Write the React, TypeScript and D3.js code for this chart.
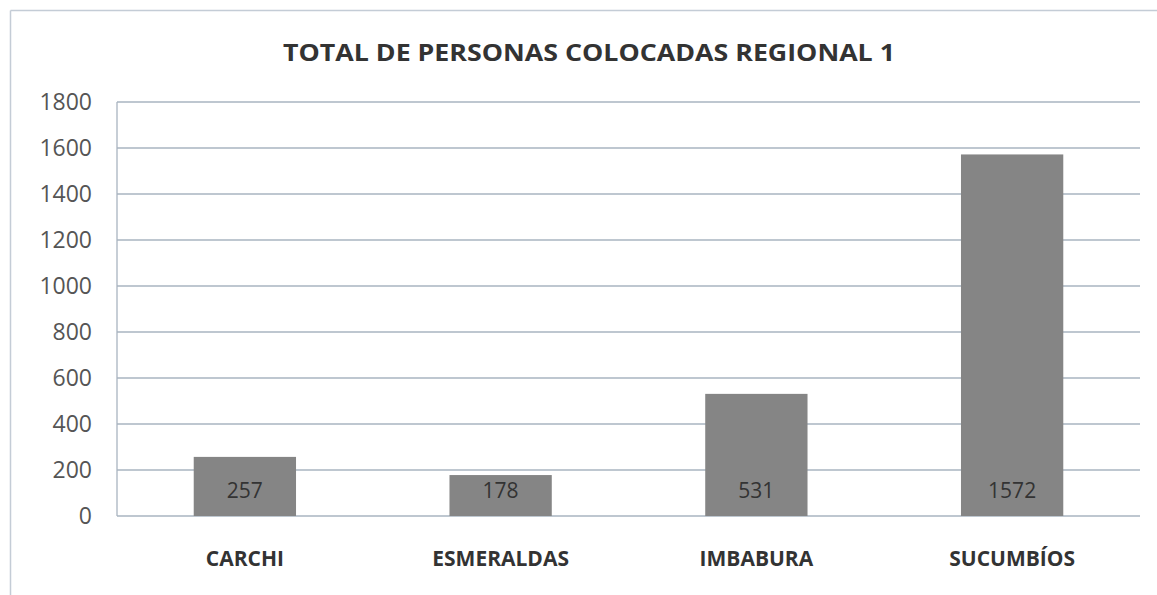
import React from "react";
import * as d3 from "d3";

const categories = ["CARCHI", "ESMERALDAS", "IMBABURA", "SUCUMBÍOS"];
const values = [257, 178, 531, 1572];
const yTicks = [0, 200, 400, 600, 800, 1000, 1200, 1400, 1600, 1800];
const title = "TOTAL DE PERSONAS COLOCADAS REGIONAL 1";

export default function App() {
  const W = 1157, H = 595;
  const left = 117, right = 1140, top = 102, bottom = 516;
  const x = d3.scaleBand<string>().domain(categories).range([left, right]).paddingInner(0.6).paddingOuter(0.3);
  const y = d3.scaleLinear().domain([0, 1800]).range([bottom, top]);
  const font = "'Open Sans', 'Noto Sans', sans-serif";
  return (
    <svg width={W} height={H} style={{ position: "absolute", left: 0, top: 0, background: "#fff" }}>
      <rect x={0} y={0} width={W} height={H} fill="#fff" />
      <line x1={10.5} y1={10.5} x2={W} y2={10.5} stroke="#c4ccd6" strokeWidth={1.5} />
      <line x1={10.5} y1={10.5} x2={10.5} y2={H} stroke="#c4ccd6" strokeWidth={1.5} />
      <text x={589} y={61} textAnchor="middle" fontFamily={font} fontWeight={700} fontSize={23} fill="#333" textLength={612} lengthAdjust="spacingAndGlyphs">{title}</text>
      {yTicks.map((t) => (
        <g key={t}>
          <line x1={left} x2={right} y1={y(t)} y2={y(t)} stroke="#a9b4c0" strokeWidth={1.3} />
          <text x={92} y={y(t) + 8} textAnchor="end" fontFamily={font} fontSize={23} fill="#555">{t}</text>
        </g>
      ))}
      <line x1={left} x2={left} y1={top} y2={bottom} stroke="#a9b4c0" strokeWidth={1.3} />
      {categories.map((c, i) => (
        <g key={c}>
          <rect x={x(c)} y={y(values[i])} width={x.bandwidth()} height={bottom - y(values[i])} fill="#858585" />
          <text x={(x(c) as number) + x.bandwidth() / 2} y={498} textAnchor="middle" fontFamily={font} fontSize={21} fill="#333">{values[i]}</text>
          <text x={(x(c) as number) + x.bandwidth() / 2} y={566} textAnchor="middle" fontFamily={font} fontWeight={700} fontSize={21} fill="#333">{c}</text>
        </g>
      ))}
    </svg>
  );
}
